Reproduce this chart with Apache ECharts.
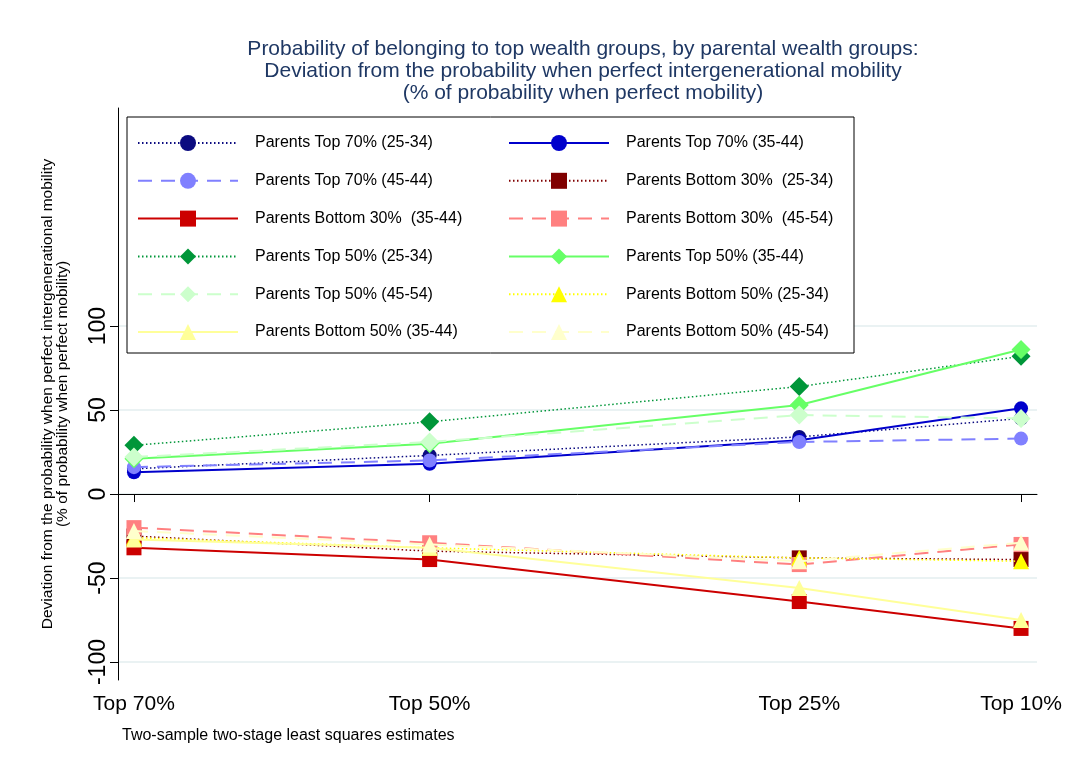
<!DOCTYPE html>
<html>
<head>
<meta charset="utf-8">
<script src="https://cdn.jsdelivr.net/npm/echarts@6/dist/echarts.min.js"></script>
<style>
  html, body { margin: 0; padding: 0; background: #fff; }
  #chart { width: 1065px; height: 769px; }
</style>
</head>
<body>
<div id="chart"></div>
<script>
// x positions (top x% of wealth) and tick labels
var xVals = [70, 50, 25, 10];
var xLabels = ['Top 70%', 'Top 50%', 'Top 25%', 'Top 10%'];
var yTicks = [-100, -50, 0, 50, 100];

// series values
var top70_2534 = [15, 23, 34, 45];
var top70_3544 = [13, 18, 32, 51];
var top70_4544 = [16, 20, 31, 33];
var bot30_2534 = [-25, -34, -38, -39];
var bot30_3544 = [-32, -39, -64, -80];
var bot30_4554 = [-20, -29, -42, -30];
var top50_2534 = [29, 43, 64, 82];
var top50_3544 = [21, 30, 53, 86];
var top50_4554 = [22, 31, 47, 45];
var bot50_2534 = [-26, -32, -38, -40];
var bot50_3544 = [-27, -32, -56, -75];
var bot50_4554 = [-22, -30, -40, -29];

var font = "'Liberation Sans', Arial, sans-serif";
var DOT = [1.5, 2.5];
var DASH = [14, 9];

// name, values, colour, line type, symbol, symbol size
var defs = [
    ['Parents Top 70% (25-34)', top70_2534, '#0b0b80', DOT, 'circle', 14],
    ['Parents Top 70% (35-44)', top70_3544, '#0000cc', 'solid', 'circle', 14],
    ['Parents Top 70% (45-44)', top70_4544, '#8080ff', DASH, 'circle', 14],
    ['Parents Bottom 30%  (25-34)', bot30_2534, '#800000', DOT, 'rect', 15],
    ['Parents Bottom 30%  (35-44)', bot30_3544, '#cc0000', 'solid', 'rect', 15],
    ['Parents Bottom 30%  (45-54)', bot30_4554, '#ff8080', DASH, 'rect', 15],
    ['Parents Top 50% (25-34)', top50_2534, '#009639', DOT, 'diamond', 19],
    ['Parents Top 50% (35-44)', top50_3544, '#66ff66', 'solid', 'diamond', 19],
    ['Parents Top 50% (45-54)', top50_4554, '#ccffcc', DASH, 'diamond', 19],
    ['Parents Bottom 50% (25-34)', bot50_2534, '#ffff00', DOT, 'triangle', 16],
    ['Parents Bottom 50% (35-44)', bot50_3544, '#ffff99', 'solid', 'triangle', 16],
    ['Parents Bottom 50% (45-54)', bot50_4554, '#ffffcc', DASH, 'triangle', 16]
];

var series = [];
var leftNames = [], rightNames = [];
for (var i = 0; i < defs.length; i++) {
    var d = defs[i];
    var pts = [];
    for (var k = 0; k < xVals.length; k++) {
        pts.push([xVals[k], d[1][k]]);
    }
    series.push({
        name: d[0],
        type: 'line',
        data: pts,
        symbol: d[4],
        symbolSize: d[5],
        showAllSymbol: true,
        z: 2 + i * 0.01,
        lineStyle: { color: d[2], width: d[3] === DOT ? 1.5 : 2, type: d[3] },
        itemStyle: { color: d[2] },
        emphasis: { disabled: true },
        animation: false
    });
    if (i % 2 === 0) leftNames.push(d[0]); else rightNames.push(d[0]);
}

var legendCommon = {
    orient: 'vertical',
    top: 135,
    padding: 0,
    itemWidth: 100,
    itemHeight: 20,
    itemGap: 21.8,
    selectedMode: false,
    z: 5,
    textStyle: { fontFamily: font, fontSize: 16, color: '#000', padding: [0, 0, 0, 12] }
};

var chart = echarts.init(document.getElementById('chart'));
chart.setOption({
    backgroundColor: '#fff',
    animation: false,
    title: {
        text: 'Probability of belonging to top wealth groups, by parental wealth groups:\nDeviation from the probability when perfect intergenerational mobility\n(% of probability when perfect mobility)',
        left: 578,
        top: 33,
        textAlign: 'center',
        textStyle: { fontFamily: font, fontSize: 21, fontWeight: 'normal', color: '#1f3864', lineHeight: 22, align: 'center' }
    },
    grid: { left: 118, right: 28, top: 108, bottom: 89, containLabel: false },
    xAxis: {
        type: 'value',
        inverse: true,
        min: 8.92,
        max: 71.08,
        axisLine: { show: true, lineStyle: { color: '#000', width: 1 } },
        axisTick: { show: true, length: 8, lineStyle: { color: '#000' }, customValues: xVals },
        axisLabel: {
            customValues: xVals,
            margin: 14,
            fontFamily: font,
            fontSize: 21,
            color: '#000',
            formatter: function (v) { return xLabels[xVals.indexOf(v)]; }
        },
        splitLine: { show: false }
    },
    yAxis: {
        type: 'value',
        min: -110.7,
        max: 229.8,
        name: 'Deviation from the probability when perfect intergenerational mobility\n(% of probability when perfect mobility)',
        nameLocation: 'middle',
        nameGap: 48,
        nameTextStyle: { fontFamily: font, fontSize: 15.5, color: '#000', lineHeight: 15 },
        axisLine: { show: true, lineStyle: { color: '#000', width: 1 } },
        axisTick: { show: true, length: 8, lineStyle: { color: '#000' }, customValues: yTicks },
        axisLabel: {
            customValues: yTicks,
            rotate: 90,
            margin: 8,
            fontFamily: font,
            fontSize: 23,
            color: '#000'
        },
        splitLine: { show: true, lineStyle: { color: '#eaf2f3', width: 2 } }
    },
    legend: [
        Object.assign({ left: 137, data: leftNames }, legendCommon),
        Object.assign({ left: 508, data: rightNames }, legendCommon)
    ],
    graphic: [
        {
            type: 'rect',
            z: 4,
            shape: { x: 127, y: 117, width: 727, height: 236 },
            style: { fill: '#fff', stroke: '#000', lineWidth: 1 }
        },
        {
            type: 'text',
            left: 122,
            top: 728,
            style: { text: 'Two-sample two-stage least squares estimates', font: '16px ' + font, fill: '#000' }
        }
    ],
    series: series
});
</script>
</body>
</html>
